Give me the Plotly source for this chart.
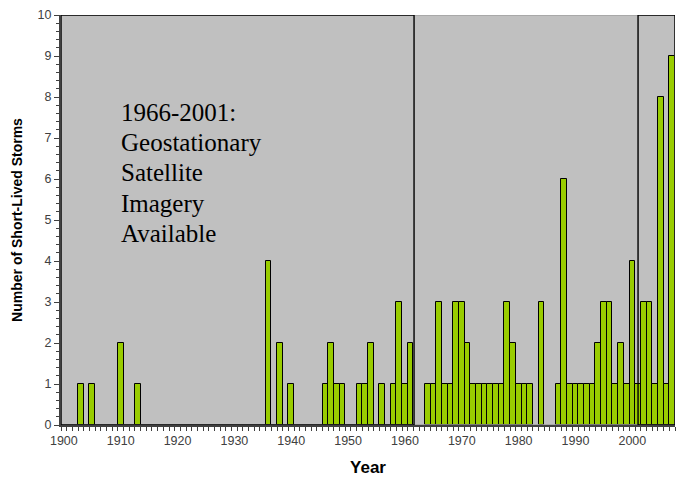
import plotly.graph_objects as go

years = [1903, 1905, 1910, 1913, 1936, 1938, 1940, 1946, 1947, 1948, 1949,
         1952, 1953, 1954, 1956, 1958, 1959, 1960, 1961,
         1964, 1965, 1966, 1967, 1968, 1969, 1970, 1971, 1972, 1973, 1974,
         1975, 1976, 1977, 1978, 1979, 1980, 1981, 1982, 1984,
         1987, 1988, 1989, 1990, 1991, 1992, 1993, 1994, 1995, 1996, 1997,
         1998, 1999, 2000, 2001, 2002, 2003, 2004, 2005, 2006, 2007]
counts = [1, 1, 2, 1, 4, 2, 1, 1, 2, 1, 1,
          1, 1, 2, 1, 1, 3, 1, 2,
          1, 1, 3, 1, 1, 3, 3, 2, 1, 1, 1,
          1, 1, 1, 3, 2, 1, 1, 1, 3,
          1, 6, 1, 1, 1, 1, 1, 2, 3, 3, 1,
          2, 1, 4, 1, 3, 3, 1, 8, 1, 9]
tick_labels = [1900, 1910, 1920, 1930, 1940, 1950, 1960, 1970, 1980, 1990, 2000]
note_lines = ["1966-2001:", "Geostationary", "Satellite", "Imagery", "Available"]
note_y = [7.61, 6.88, 6.15, 5.41, 4.68]

x_lo, x_hi = 1899.5, 2007.5
era1_end, era3_start = 1961.6, 2001.0

fig = go.Figure()
fig.add_trace(go.Bar(
    x=years, y=counts, width=1.0,
    marker=dict(color="#99CC00", line=dict(color="#000000", width=1)),
    showlegend=False,
))

# plot-area border (gray) and era boxes (black)
fig.add_shape(type="rect", xref="x", yref="y", x0=x_lo, x1=x_hi, y0=0, y1=10,
              line=dict(color="#A0A0A0", width=1.5), layer="above")
fig.add_shape(type="rect", xref="x", yref="y", x0=x_lo, x1=era1_end, y0=0, y1=10,
              line=dict(color="#000000", width=1.4), layer="above")
fig.add_shape(type="rect", xref="x", yref="y", x0=era3_start, x1=x_hi, y0=0, y1=10,
              line=dict(color="#000000", width=1.4), layer="above")

for txt, yy in zip(note_lines, note_y):
    fig.add_annotation(x=1909.7, y=yy, xref="x", yref="y", text=txt,
                       showarrow=False, xanchor="left", yanchor="middle",
                       font=dict(family="Liberation Serif, Times New Roman, serif",
                                 size=25, color="#000000"))

fig.update_layout(
    width=678, height=477,
    margin=dict(l=61, r=3, t=15, b=52),
    paper_bgcolor="#FFFFFF",
    plot_bgcolor="#C0C0C0",
    bargap=0,
    font=dict(family="Arial, Liberation Sans, sans-serif", size=12, color="#333333"),
)
fig.update_xaxes(
    range=[x_lo, x_hi], tickvals=tick_labels, ticktext=[str(t) for t in tick_labels],
    ticks="", showgrid=False, zeroline=False,
    showline=True, linecolor="#404040", linewidth=2,
    minor=dict(tick0=1899.5, dtick=1, ticks="outside", ticklen=4,
               tickcolor="#404040", showgrid=False),
    tickfont=dict(size=12.5, color="#404040"),
    ticklabelstandoff=3,
    title=dict(text="<b>Year</b>", font=dict(size=17, color="#000000"), standoff=14),
)
fig.update_yaxes(
    range=[0, 10], dtick=1, ticks="outside", ticklen=5, tickcolor="#404040",
    showgrid=False, zeroline=False,
    showline=True, linecolor="#404040", linewidth=2,
    minor=dict(dtick=0.2, ticks="outside", ticklen=3, tickcolor="#404040", showgrid=False),
    tickfont=dict(size=12.5, color="#404040"),
    title=dict(text="<b>Number of Short-Lived Storms</b>",
               font=dict(size=14, color="#000000"), standoff=12),
)

fig.write_html("out.html", config={"displayModeBar": False},
               post_script="document.body.style.margin='0';document.body.style.overflow='hidden';")
